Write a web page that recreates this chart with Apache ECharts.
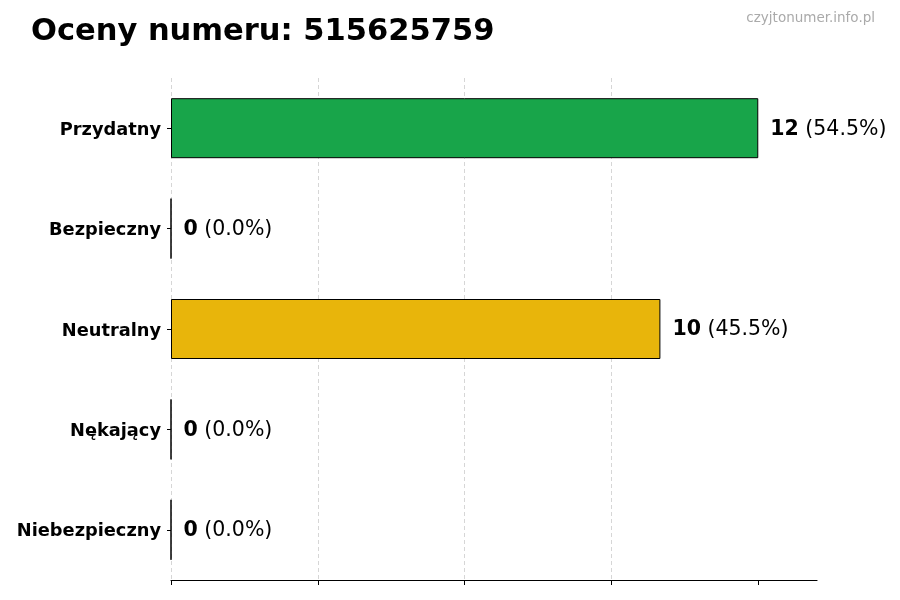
<!DOCTYPE html>
<html><head><meta charset="utf-8">
<script src="https://cdn.jsdelivr.net/npm/echarts@6/dist/echarts.min.js"></script>
<style>html,body{margin:0;padding:0;background:#fff}#c{width:900px;height:600px}</style>
</head><body><div id="c"></div>
<script>
const categories = ['Przydatny', 'Bezpieczny', 'Neutralny', 'Nękający', 'Niebezpieczny'];
const values = [12, 0, 10, 0, 0];
const percents = ['54.5%', '0.0%', '45.5%', '0.0%', '0.0%'];
const tickValues = [0, 3, 6, 9, 12];
const colors = ['#18a54a', '#18a54a', '#e8b50b', '#d9534f', '#c0392b'];

const chart = echarts.init(document.getElementById('c'), null, {renderer: 'canvas'});
const FONT = 'DejaVu Sans';
chart.setOption({
  animation: false,
  title: [{
    text: 'Oceny numeru: 515625759', left: 26, top: 12,
    textStyle: {fontFamily: FONT, fontWeight: 'bold', fontSize: 30.5, color: '#000'}
  }, {
    text: 'czyjtonumer.info.pl', right: 20, top: 6,
    textStyle: {fontFamily: FONT, fontWeight: 'normal', fontSize: 13.5, color: '#aaaaaa'}
  }],
  grid: {left: 171, right: 83, top: 78, bottom: 20},
  xAxis: {
    type: 'value', min: 0, max: 13.2, interval: 3,
    axisLine: {show: true, lineStyle: {color: '#000', width: 1.2}},
    axisTick: {show: true, length: 5, customValues: tickValues, lineStyle: {color: '#000'}},
    axisLabel: {show: false},
    splitLine: {show: true, showMaxLine: false, lineStyle: {type: [4, 3], color: '#d6d6d6', width: 1}}
  },
  yAxis: {
    type: 'category', data: categories, inverse: true,
    axisLine: {show: false},
    axisTick: {show: true, alignWithLabel: true, length: 4, lineStyle: {color: '#000'}},
    axisLabel: {
      margin: 10,
      formatter: v => '{a|' + v + '}',
      rich: {a: {fontFamily: FONT, fontWeight: 'bold', fontSize: 17.8, color: '#000', padding: [4, 0, 0, 0]}}
    }
  },
  series: [{
    type: 'bar', barWidth: 60,
    data: values.map((v, i) => ({
      value: v,
      itemStyle: {color: colors[i], borderColor: '#000', borderWidth: 1}
    })),
    label: {
      show: true, position: 'right', distance: 12, padding: [2, 0, 0, 0],
      formatter: p => '{b|' + p.value + '}{n| (' + percents[p.dataIndex] + ')}',
      rich: {
        b: {fontFamily: FONT, fontWeight: 'bold', fontSize: 20.5, color: '#000'},
        n: {fontFamily: FONT, fontWeight: 'normal', fontSize: 20.5, color: '#000'}
      }
    }
  }]
});
</script></body></html>
